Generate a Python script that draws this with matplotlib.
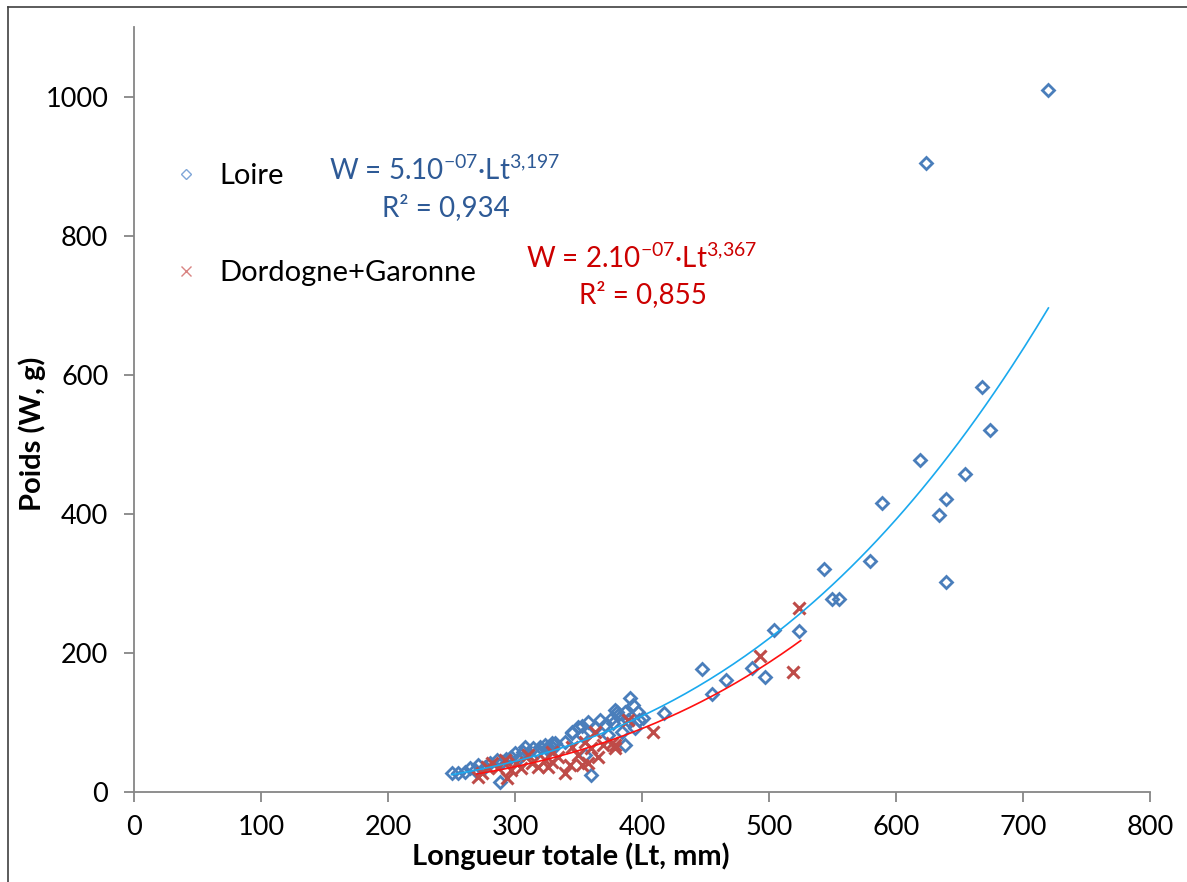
import numpy as np
import matplotlib
matplotlib.use("Agg")
import matplotlib.pyplot as plt
from matplotlib.lines import Line2D

plt.rcParams['font.family'] = ['Lato', 'DejaVu Sans']
plt.rcParams['mathtext.fontset'] = 'custom'
plt.rcParams['mathtext.rm'] = 'Lato'
plt.rcParams['mathtext.it'] = 'Lato'
plt.rcParams['mathtext.bf'] = 'Lato:bold'

# ---------------- data ----------------
loire_lt = [250, 255, 260.6, 264.6, 268.5, 271, 276, 280, 288, 285.6, 289.5, 293, 297,
            300, 302.6, 306.5, 308, 310.5, 314, 317, 319.7, 323.6, 326, 329, 330,
            326, 331.5, 339.4, 344.6, 349.8, 352.5, 357.7, 363, 367, 370.9, 376, 378.7,
            381, 386.6, 390.5, 393, 389, 397, 401, 386.6, 360, 355, 373.5, 384, 394.5,
            345, 353, 398, 380, 377,
            417, 447, 455, 466, 487, 497, 504, 524, 543, 549.6, 555, 579.5, 589,
            619, 624, 634, 639, 639, 654, 668, 674, 720]
loire_w = [28, 27, 29, 34, 31.6, 39, 36, 41, 15, 46, 43.5, 48, 51,
           55.6, 48, 58, 65, 55.6, 63, 58, 65, 67.5, 60, 70, 63,
           65, 70, 72, 86.6, 94, 82, 101, 91.5, 103, 96, 106, 118,
           110.6, 115, 134.6, 125, 103, 115, 106, 67.5, 24, 53, 82, 86.6, 91.5,
           85, 95, 103, 115, 99,
           114, 177, 141, 161, 178, 166, 233, 232, 320, 277, 278, 332, 415,
           477, 905, 399, 421, 302, 457, 583, 520, 1010]

dg_lt = [271, 273.8, 277.7, 281.6, 287, 293.4, 292, 297, 301, 305, 310.5, 313, 318,
         323.6, 326, 329, 329, 334, 339.4, 344.6, 343, 349.8, 355, 360, 363, 365.6,
         369.5, 376, 378.7, 389, 409, 357.7, 352.5, 379, 493, 519, 524]
dg_w = [22, 27, 36, 41, 34, 20, 46, 31.6, 41, 34, 53, 41, 36,
        46, 36, 43.5, 58, 50.7, 27, 65, 39, 53, 72, 63, 86.6, 50.7,
        67.5, 70, 63, 103, 86.6, 41, 39, 67, 195, 172, 264]

# power-law trendlines W = a * Lt^b (as drawn in the picture)
loire_fit = (6.95e-7, 3.15, 250, 720)
dg_fit = (4.3e-7, 3.2, 270, 525)

labels = ["Loire", "Dordogne+Garonne"]
eq_loire = ["W = 5.10$^{-07}$·Lt$^{3{,}197}$", "R² = 0,934"]
eq_dg = ["W = 2.10$^{-07}$·Lt$^{3{,}367}$", "R² = 0,855"]

xticks = [0, 100, 200, 300, 400, 500, 600, 700, 800]
yticks = [0, 200, 400, 600, 800, 1000]

# ---------------- figure ----------------
W, H = 1187, 882
fig = plt.figure(figsize=(W / 100, H / 100), dpi=100)
ax = fig.add_axes([134 / W, 1 - 792 / H, 1016 / W, 765 / H])

blue = '#4A7EBB'
red = '#BE4B48'

ax.plot(loire_lt, loire_w, linestyle='none', marker='D', ms=6.6, mfc='none',
        mec=blue, mew=2.0, zorder=3)
ax.plot(dg_lt, dg_w, linestyle='none', marker='x', ms=8.5, mec=red, mew=2.2, zorder=3)

for (a, b, x0, x1), col in [(loire_fit, '#1AA9EE'), (dg_fit, '#FF1010')]:
    xs = np.linspace(x0, x1, 200)
    ax.plot(xs, a * xs ** b, color=col, lw=1.2, zorder=4)

ax.set_xlim(0, 800)
ax.set_ylim(0, 1100)
ax.set_xticks(xticks)
ax.set_yticks(yticks)
for s in ['top', 'right']:
    ax.spines[s].set_visible(False)
for s in ['left', 'bottom']:
    ax.spines[s].set_color('#868686')
    ax.spines[s].set_linewidth(1.3)
ax.tick_params(axis='both', direction='out', length=7.5, width=1.3, color='#868686',
               labelsize=19.5)
ax.tick_params(axis='x', pad=9)
ax.tick_params(axis='y', pad=11)

ax.set_xlabel("Longueur totale (Lt, mm)", fontsize=21, fontweight='bold')
ax.set_ylabel("Poids (W, g)", fontsize=21, fontweight='bold')
ax.xaxis.set_label_coords(0.430, -0.066)
ax.yaxis.set_label_coords(-0.087, 0.468)

# legend
handles = [Line2D([], [], linestyle='none', marker='D', ms=4.8, mfc='none', mec='#7FA6D8', mew=1.0),
           Line2D([], [], linestyle='none', marker='x', ms=6.5, mec='#D98482', mew=1.0)]
ax.legend(handles, labels, loc='upper left', bbox_to_anchor=(171.4 / W, 1 - 163 / H),
          bbox_transform=fig.transFigure, frameon=False, fontsize=21,
          handlelength=1.0, handletextpad=0.66, labelspacing=2.45, borderpad=0,
          borderaxespad=0)

# equations
def fx(px):
    return px / W

def fy(py):
    return 1 - py / H

fig.text(fx(445), fy(170), eq_loire[0], color='#2E5A96', fontsize=20, ha='center', va='center')
fig.text(fx(446), fy(208), eq_loire[1], color='#2E5A96', fontsize=20, ha='center', va='center')
fig.text(fx(642), fy(258), eq_dg[0], color='#CC0000', fontsize=20, ha='center', va='center')
fig.text(fx(643), fy(295), eq_dg[1], color='#CC0000', fontsize=20, ha='center', va='center')

# outer frame lines (left and top)
fig.add_artist(Line2D([8 / W, 8 / W], [0, 1 - 7 / H], transform=fig.transFigure, color='#404040', lw=1.2))
fig.add_artist(Line2D([8 / W, 1], [1 - 7 / H, 1 - 7 / H], transform=fig.transFigure, color='#404040', lw=1.2))

fig.savefig("out.png", dpi=100, facecolor='white')
